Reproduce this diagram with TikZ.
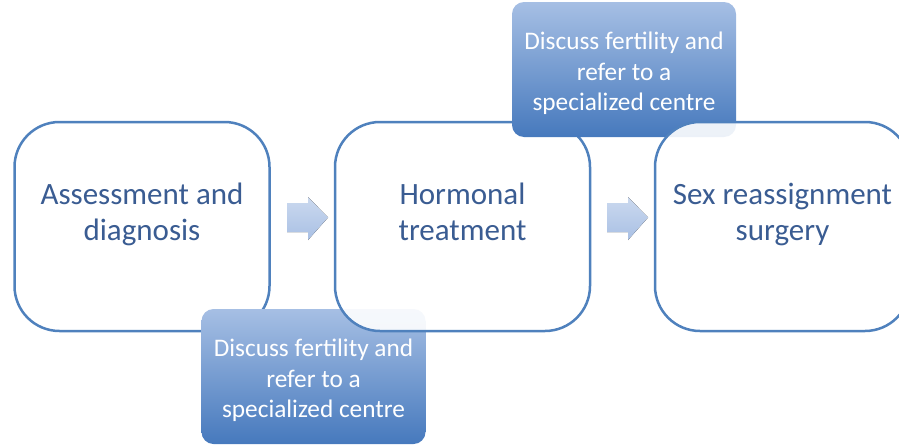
\documentclass[tikz,border=0pt]{standalone}
\usepackage[dvipsnames]{xcolor}
\usepackage{fontspec}
\setmainfont{Carlito}
\usepackage{tikz}

\definecolor{stageLine}{HTML}{4F81BD}
\definecolor{stageText}{HTML}{3A5C92}
\definecolor{noteTop}{HTML}{A6BFE4}
\definecolor{noteBottom}{HTML}{4679BD}
\definecolor{arrowTop}{HTML}{CBD9EF}
\definecolor{arrowBottom}{HTML}{A9C0E4}

\begin{document}
\begin{tikzpicture}[x=1pt,y=-1pt,
  stagebox/.style={draw=stageLine, line width=2.5pt, rounded corners=45pt,
    fill=white, fill opacity=0.9, minimum width=255pt, minimum height=209pt},
  stagetext/.style={text=stageText, align=center, text depth=8pt,
    font=\fontsize{31}{36}\selectfont},
  notebox/.style={rounded corners=12pt, top color=noteTop, bottom color=noteBottom,
    minimum width=224pt, minimum height=135pt},
  notetext/.style={text=white, align=center, font=\fontsize{25.3}{30.5}\selectfont},
  blockarrow/.style={top color=arrowTop, bottom color=arrowBottom}]
\useasboundingbox (0,0) rectangle (899,447);
\clip (0,0) rectangle (899,447);

\node[stagebox] (assess) at (142,226.5) {};
\node[stagetext] (assessText) at ([yshift=11pt]assess.center) {Assessment and\\diagnosis};

\node[notebox] (fertilityA) at (313.5,376.5) {};
\node[notetext] (fertilityAText) at ([yshift=-4pt]fertilityA.center) {Discuss fertility and\\refer to a\\specialized centre};

\node[stagebox] (hormone) at (462.5,226.5) {};
\node[stagetext] (hormoneText) at ([yshift=11pt]hormone.center) {Hormonal\\treatment};

\node[notebox] (fertilityB) at (624,69.5) {};
\node[notetext] (fertilityBText) at ([yshift=-4pt]fertilityB.center) {Discuss fertility and\\refer to a\\specialized centre};

\node[stagebox] (surgery) at (782.5,226.5) {};
\node[stagetext] (surgeryText) at ([yshift=11pt]surgery.center) {Sex reassignment\\surgery};

\fill[blockarrow] (287,203) -- (308,203) -- (308,197) -- (328,217.5) -- (308,240) -- (308,232) -- (287,232) -- cycle;
\fill[blockarrow] (607,203) -- (628,203) -- (628,197) -- (648,217.5) -- (628,240) -- (628,232) -- (607,232) -- cycle;

\end{tikzpicture}
\end{document}
